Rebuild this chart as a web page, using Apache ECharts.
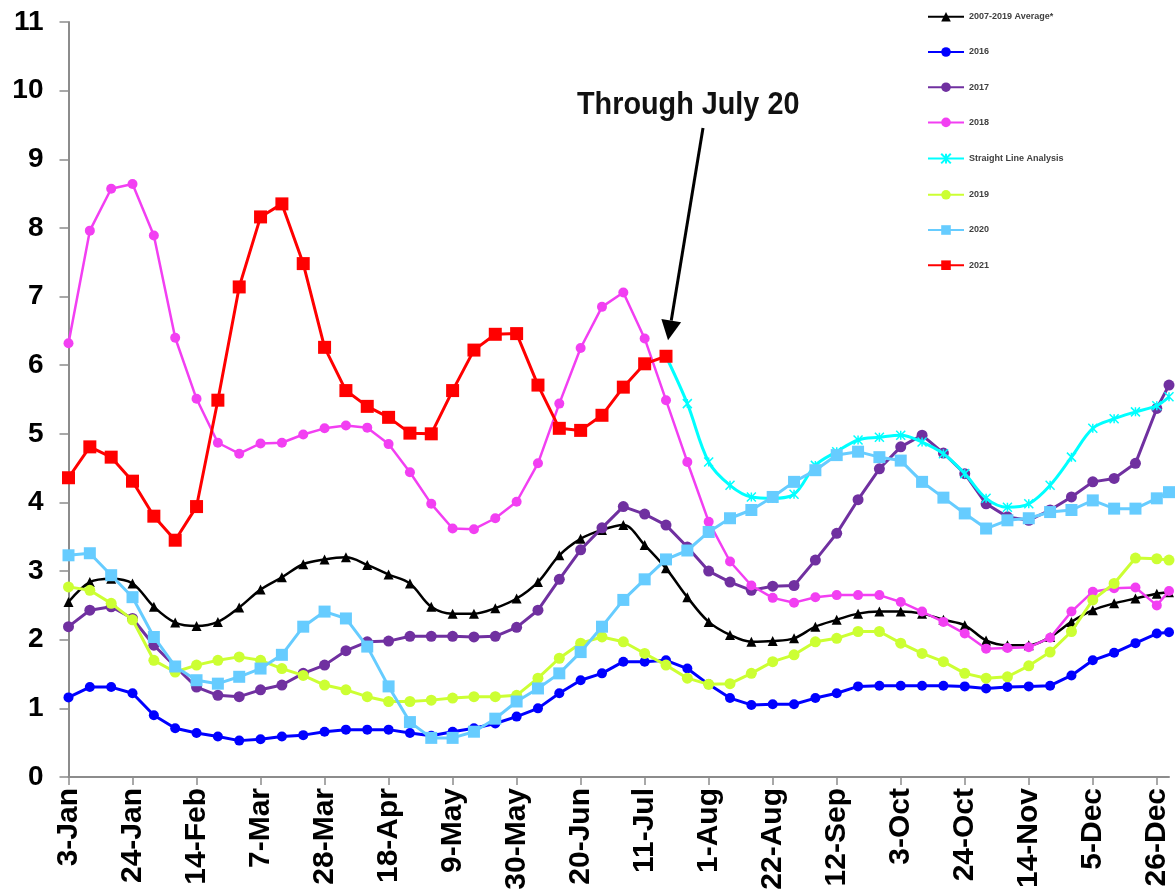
<!DOCTYPE html>
<html>
<head>
<meta charset="utf-8">
<script src="https://cdn.jsdelivr.net/npm/echarts@6/dist/echarts.min.js"></script>
<style>
html,body{margin:0;padding:0;background:#fff;}
#c{width:1176px;height:896px;}
</style>
</head>
<body>
<div id="c"></div>
<script>
// Day offsets from 3-Jan for each weekly point (last point is the year-end partial week)
const dayOffsets = [0,7,14,21,28,35,42,49,56,63,70,77,84,91,98,105,112,119,126,133,140,147,154,161,168,175,182,189,196,203,210,217,224,231,238,245,252,259,266,273,280,287,294,301,308,315,322,329,336,343,350,357,361];
const tickDays = [0,21,42,63,84,105,126,147,168,189,210,231,252,273,294,315,336,357];
const tickLabels = ['3-Jan','24-Jan','14-Feb','7-Mar','28-Mar','18-Apr','9-May','30-May','20-Jun','11-Jul','1-Aug','22-Aug','12-Sep','3-Oct','24-Oct','14-Nov','5-Dec','26-Dec'];
const seriesNames = ['2007-2019 Average*','2016','2017','2018','Straight Line Analysis','2019','2020','2021'];

const avg = [2.55,2.84,2.89,2.82,2.48,2.25,2.20,2.26,2.47,2.73,2.91,3.10,3.17,3.20,3.09,2.95,2.82,2.48,2.38,2.38,2.46,2.60,2.84,3.23,3.47,3.60,3.67,3.38,3.04,2.62,2.26,2.07,1.97,1.98,2.02,2.19,2.29,2.38,2.41,2.41,2.38,2.29,2.21,1.99,1.92,1.92,2.04,2.26,2.43,2.53,2.60,2.67,2.69];
const y2016 = [1.16,1.31,1.31,1.22,0.90,0.71,0.64,0.59,0.53,0.55,0.59,0.61,0.66,0.69,0.69,0.69,0.64,0.60,0.66,0.71,0.78,0.88,1.00,1.22,1.41,1.51,1.68,1.68,1.70,1.58,1.35,1.15,1.05,1.06,1.06,1.15,1.22,1.32,1.33,1.33,1.33,1.33,1.32,1.29,1.31,1.32,1.33,1.48,1.70,1.81,1.95,2.09,2.11];
const y2017 = [2.19,2.43,2.48,2.31,1.92,1.61,1.31,1.19,1.17,1.27,1.34,1.51,1.63,1.84,1.97,1.98,2.05,2.05,2.05,2.04,2.05,2.18,2.43,2.88,3.31,3.63,3.94,3.83,3.67,3.35,3.00,2.84,2.72,2.78,2.79,3.16,3.55,4.04,4.49,4.81,4.98,4.72,4.42,3.98,3.79,3.74,3.89,4.08,4.30,4.35,4.57,5.37,5.71];
const y2018 = [6.32,7.96,8.57,8.64,7.89,6.40,5.51,4.87,4.71,4.86,4.87,4.99,5.08,5.12,5.09,4.85,4.44,3.98,3.62,3.61,3.77,4.01,4.57,5.44,6.25,6.85,7.06,6.39,5.49,4.59,3.72,3.14,2.79,2.61,2.54,2.62,2.65,2.65,2.65,2.55,2.41,2.26,2.09,1.87,1.88,1.89,2.03,2.41,2.70,2.75,2.76,2.50,2.71];
const straight = [null,null,null,null,null,null,null,null,null,null,null,null,null,null,null,null,null,null,null,null,null,null,null,null,null,null,null,null,6.13,5.44,4.59,4.25,4.08,4.06,4.12,4.54,4.74,4.91,4.95,4.98,4.88,4.71,4.42,4.06,3.93,3.98,4.25,4.66,5.08,5.22,5.32,5.41,5.54];
const y2019 = [2.77,2.72,2.53,2.29,1.70,1.53,1.63,1.70,1.75,1.70,1.58,1.48,1.34,1.27,1.17,1.10,1.10,1.12,1.15,1.17,1.17,1.19,1.44,1.73,1.95,2.04,1.97,1.80,1.63,1.44,1.35,1.36,1.51,1.68,1.78,1.97,2.02,2.12,2.12,1.95,1.80,1.68,1.51,1.44,1.46,1.62,1.82,2.12,2.58,2.82,3.19,3.18,3.16];
const y2020 = [3.23,3.26,2.94,2.62,2.04,1.61,1.41,1.36,1.46,1.58,1.78,2.19,2.41,2.31,1.90,1.32,0.80,0.57,0.57,0.66,0.85,1.10,1.29,1.51,1.82,2.19,2.58,2.88,3.17,3.30,3.57,3.77,3.89,4.08,4.30,4.47,4.69,4.74,4.66,4.61,4.30,4.07,3.84,3.62,3.74,3.77,3.86,3.89,4.03,3.91,3.91,4.06,4.15];
const y2021 = [4.36,4.81,4.66,4.31,3.80,3.45,3.94,5.49,7.14,8.16,8.35,7.48,6.26,5.63,5.40,5.24,5.01,5.00,5.63,6.22,6.45,6.46,5.71,5.08,5.05,5.27,5.68,6.02,6.13];
const annotationText = 'Through July 20';

function pairs(vals){
  const out = [];
  for (let i = 0; i < vals.length; i++) {
    if (vals[i] !== null) out.push([dayOffsets[i], vals[i]]);
  }
  return out;
}

const FONT = "'Liberation Sans', Arial, sans-serif";
const chart = echarts.init(document.getElementById('c'), null, {renderer:'canvas'});

const styles = [
  {color:'#000000', symbol:'triangle', size:10, width:2.5, smooth:true},
  {color:'#0000ff', symbol:'circle', size:10, width:3, smooth:false},
  {color:'#7030a0', symbol:'circle', size:11, width:3, smooth:false},
  {color:'#f23ff2', symbol:'circle', size:10, width:2.5, smooth:false},
  {color:'#00ffff', symbol:'path://M0,0L10,10M10,0L0,10M5,0L5,10', size:9, width:3, smooth:true},
  {color:'#ccff33', symbol:'circle', size:11, width:3, smooth:false},
  {color:'#66ccff', symbol:'rect', size:12, width:3, smooth:false},
  {color:'#ff0000', symbol:'rect', size:13, width:3, smooth:false}
];
const dataSets = [avg, y2016, y2017, y2018, straight, y2019, y2020, y2021];

const series = dataSets.map((d, k) => {
  const s = styles[k];
  const isCross = k === 4;
  return {
    name: seriesNames[k],
    type: 'line',
    data: pairs(d),
    symbol: s.symbol,
    symbolSize: s.size,
    smooth: s.smooth ? 0.35 : false,
    lineStyle: {color: s.color, width: s.width},
    itemStyle: isCross ? {color: 'rgba(0,0,0,0)', borderColor: s.color, borderWidth: 1.5} : {color: s.color, borderWidth: 0},
    z: 2 + k,
    emphasis: {disabled: true},
    showSymbol: true
  };
});

chart.setOption({
  animation: false,
  backgroundColor: '#ffffff',
  grid: {left: 68.5, right: 7, top: 22, bottom: 119, containLabel: false},
  legend: {
    orient: 'vertical',
    left: 922,
    top: 7,
    itemWidth: 36,
    itemHeight: 12,
    itemGap: 25.6,
    data: seriesNames,
    textStyle: {fontSize: 9, fontWeight: 'bold', color: '#404040', fontFamily: FONT},
    selectedMode: false
  },
  xAxis: {
    type: 'value',
    min: 0,
    max: 361,
    interval: 21,
    axisLine: {lineStyle: {color: '#8c8c8c', width: 2}},
    axisTick: {show: true, length: 8, lineStyle: {color: '#8c8c8c', width: 1.5}, customValues: tickDays},
    axisLabel: {
      customValues: tickDays,
      rotate: 90,
      margin: 11,
      fontSize: 30,
      fontWeight: 'bold',
      color: '#000',
      fontFamily: FONT,
      formatter: function(v){ const i = tickDays.indexOf(v); return i >= 0 ? tickLabels[i] : ''; }
    },
    splitLine: {show: false}
  },
  yAxis: {
    type: 'value',
    min: 0,
    max: 11,
    interval: 1,
    axisLine: {show: true, lineStyle: {color: '#8c8c8c', width: 2}},
    axisTick: {show: true, length: 9, lineStyle: {color: '#8c8c8c', width: 1.5}},
    axisLabel: {margin: 25, fontSize: 28, fontWeight: 'bold', color: '#000', fontFamily: FONT},
    splitLine: {show: false}
  },
  series: series
});

// Annotation arrow anchored to the last 2021 point
const lastIdx = y2021.length - 1;
const p = chart.convertToPixel({gridIndex: 0}, [dayOffsets[lastIdx], y2021[lastIdx]]);
const tip = [p[0] + 2, p[1] - 16];
const tail = [p[0] + 37, 128];
const dx = tip[0] - tail[0], dy = tip[1] - tail[1];
const len = Math.sqrt(dx*dx + dy*dy);
const ux = dx/len, uy = dy/len;
const headLen = 20, headHalf = 10;
const base = [tip[0] - ux*headLen, tip[1] - uy*headLen];
const nx = -uy, ny = ux;

chart.setOption({
  graphic: [
    {
      type: 'text',
      x: 577, y: 105,
      scaleX: 0.9,
      style: {text: annotationText, font: "bold 32px 'Liberation Sans', Arial, sans-serif", fill: '#111', textAlign: 'left', textVerticalAlign: 'middle'},
      z: 100
    },
    {
      type: 'line',
      shape: {x1: tail[0], y1: tail[1], x2: base[0], y2: base[1]},
      style: {stroke: '#000', lineWidth: 3},
      z: 100
    },
    {
      type: 'polygon',
      shape: {points: [tip, [base[0] + nx*headHalf, base[1] + ny*headHalf], [base[0] - nx*headHalf, base[1] - ny*headHalf]]},
      style: {fill: '#000'},
      z: 100
    }
  ]
});
</script>
</body>
</html>
